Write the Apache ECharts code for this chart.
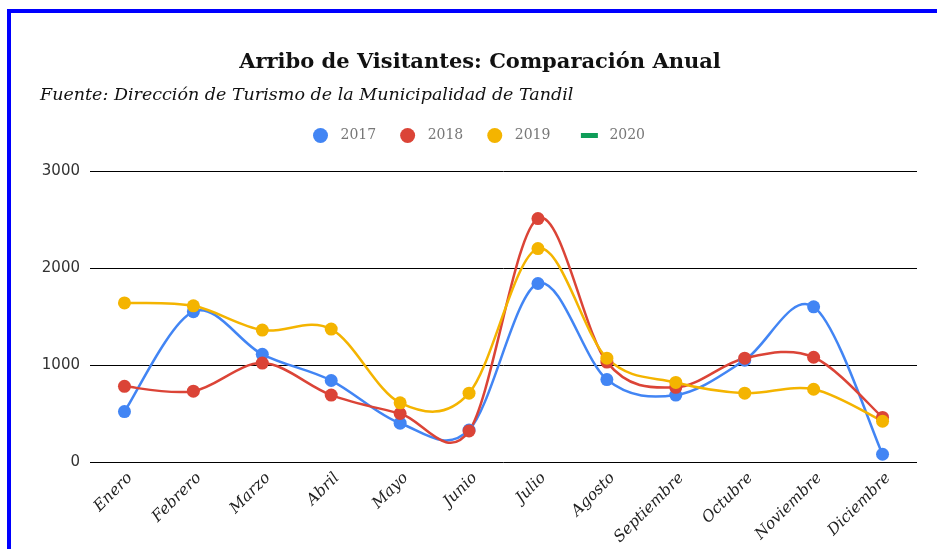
<!DOCTYPE html>
<html>
<head>
<meta charset="utf-8">
<script src="https://cdn.jsdelivr.net/npm/echarts@6/dist/echarts.min.js"></script>
<style>
html,body{margin:0;padding:0;background:#fff;}
#frame{position:absolute;left:7px;top:9px;width:940px;height:560px;border-left:4px solid #0000ff;border-top:4px solid #0000ff;box-sizing:border-box;pointer-events:none;z-index:2;}
#chart{position:absolute;left:0;top:0;width:937px;height:549px;}
</style>
</head>
<body>
<div id="chart"></div>
<div id="frame"></div>
<script>
const months = ['Enero','Febrero','Marzo','Abril','Mayo','Junio','Julio','Agosto','Septiembre','Octubre','Noviembre','Diciembre'];
const v2017 = [520, 1550, 1110, 840, 400, 330, 1840, 850, 690, 1050, 1600, 80];
const v2018 = [780, 730, 1020, 690, 500, 320, 2510, 1030, 770, 1070, 1080, 460];
const v2019 = [1640, 1610, 1360, 1370, 610, 710, 2200, 1070, 820, 710, 750, 420];
const v2020 = [];
const yTicks = [0, 1000, 2000, 3000];
const titleText = 'Arribo de Visitantes: Comparación Anual';
const subtitleText = 'Fuente: Dirección de Turismo de la Municipalidad de Tandil';

const colors = ['#4285f4', '#db4437', '#f4b400', '#0f9d58'];
const serif = '"DejaVu Serif", serif';

// Points series (symbols only); the line itself is drawn by a custom series
function pointSeries(name, data, color) {
  return {
    name: name, type: 'line', data: data,
    symbol: 'circle', symbolSize: 13,
    itemStyle: {color: color},
    lineStyle: {color: color, width: 0, opacity: 0},
    emphasis: {disabled: true},
    z: 4
  };
}

// Catmull-Rom curve through the data, computed with the axis scales (api.coord)
function curveSeries(name, data, color) {
  return {
    name: name, type: 'custom', coordinateSystem: 'cartesian2d',
    data: data.length ? [[0, data[0]]] : [],
    silent: true, z: 2,
    itemStyle: {color: color},
    renderItem: function (params, api) {
      const pts = data.map(function (v, i) { return api.coord([i, v]); });
      const n = pts.length;
      if (n < 2) return null;
      let d = 'M' + pts[0][0] + ',' + pts[0][1];
      for (let i = 0; i < n - 1; i++) {
        const p0 = pts[Math.max(i - 1, 0)], p1 = pts[i], p2 = pts[i + 1], p3 = pts[Math.min(i + 2, n - 1)];
        const c1x = p1[0] + (p2[0] - p0[0]) / 6, c1y = p1[1] + (p2[1] - p0[1]) / 6;
        const c2x = p2[0] - (p3[0] - p1[0]) / 6, c2y = p2[1] - (p3[1] - p1[1]) / 6;
        d += 'C' + c1x + ',' + c1y + ',' + c2x + ',' + c2y + ',' + p2[0] + ',' + p2[1];
      }
      return {
        type: 'path',
        shape: {pathData: d},
        style: {fill: null, stroke: color, lineWidth: 2.5}
      };
    }
  };
}

const chart = echarts.init(document.getElementById('chart'), null, {renderer: 'canvas'});
chart.setOption({
  animation: false,
  color: colors,
  backgroundColor: '#ffffff',
  graphic: [
    {type: 'text', x: 480, y: 63, style: {text: titleText, font: 'bold 21px ' + serif, fill: '#111', textAlign: 'center', textVerticalAlign: 'middle'}},
    {type: 'text', x: 40, y: 95, style: {text: subtitleText, font: 'italic 17.5px ' + serif, fill: '#111', textAlign: 'left', textVerticalAlign: 'middle'}}
  ],
  legend: {
    top: 123, left: 308,
    itemWidth: 30, itemHeight: 15, itemGap: 24,
    textStyle: {color: '#777', fontFamily: serif, fontSize: 14},
    data: [
      {name: '2017', icon: 'circle'},
      {name: '2018', icon: 'circle'},
      {name: '2019', icon: 'circle'},
      {name: '2020', icon: 'path://M0,0M30,15M6.5,5L23.5,5L23.5,10L6.5,10Z'}
    ]
  },
  grid: {left: 90, right: 20, top: 171, bottom: 87, containLabel: false},
  xAxis: {
    type: 'category', data: months, boundaryGap: true,
    axisLine: {show: false}, axisTick: {show: false},
    axisLabel: {rotate: 45, interval: 0, color: '#222', fontFamily: serif, fontStyle: 'italic', fontSize: 15.5, margin: 8, verticalAlign: 'top'}
  },
  yAxis: {
    type: 'value', min: 0, max: 3000, interval: 1000,
    axisLine: {show: false}, axisTick: {show: false},
    splitLine: {lineStyle: {color: '#000', width: 1}},
    axisLabel: {color: '#333', fontFamily: '"DejaVu Sans", sans-serif', fontSize: 15, margin: 10,
      formatter: function (v) { return yTicks.indexOf(v) >= 0 ? String(v) : ''; }}
  },
  series: [
    pointSeries('2017', v2017, colors[0]),
    pointSeries('2018', v2018, colors[1]),
    pointSeries('2019', v2019, colors[2]),
    pointSeries('2020', v2020, colors[3]),
    curveSeries('2017', v2017, colors[0]),
    curveSeries('2018', v2018, colors[1]),
    curveSeries('2019', v2019, colors[2])
  ]
});
</script>
</body>
</html>
